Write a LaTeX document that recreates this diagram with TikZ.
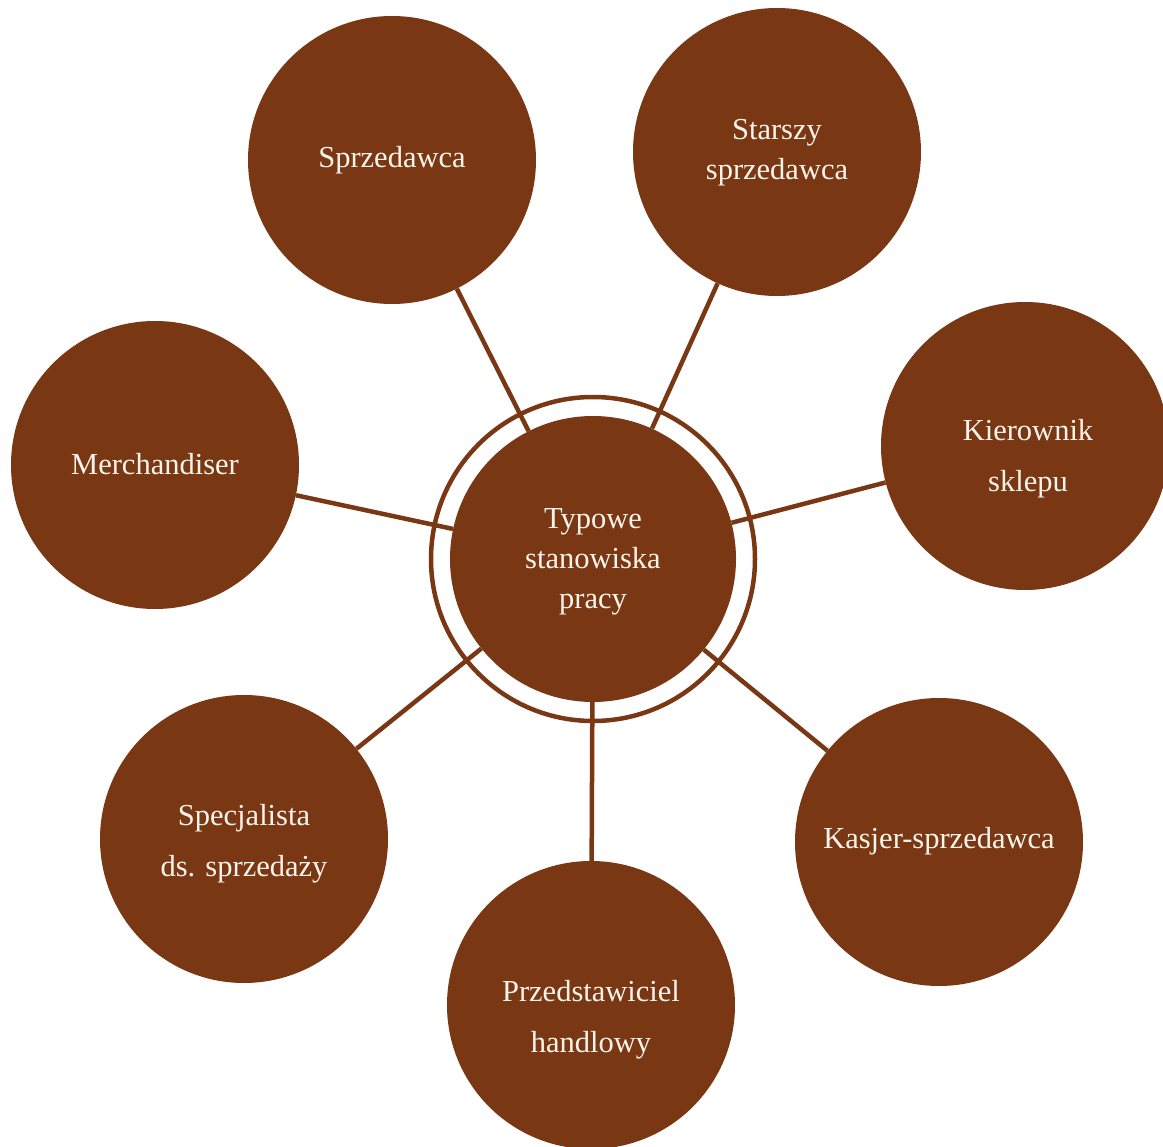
\documentclass[tikz,border=0pt]{standalone}
\usepackage{fontspec}
\setmainfont{Liberation Serif}
\definecolor{brn}{RGB}{121,56,19}
\definecolor{txt}{RGB}{250,243,235}
\begin{document}
\begin{tikzpicture}[x=1pt,y=-1pt,
  sat/.style={circle,fill=brn,minimum size=288pt,inner sep=0pt},
  hub/.style={circle,fill=brn,minimum size=286pt,inner sep=0pt},
  ring/.style={draw=brn,line width=4.5pt},
  lbl/.style={text=txt,align=center,font=\fontsize{30.5}{40}\selectfont},
  lblw/.style={text=txt,align=center,font=\fontsize{30.5}{51}\selectfont},
  link/.style={draw=brn,line width=4.5pt}]
\clip (0,0) rectangle (1163,1147);
\fill[white] (0,0) rectangle (1163,1147);
% hub
\node[hub] (c) at (593,559) {};
\draw[ring] (c.center) circle[radius=162pt];
% satellites
\node[sat] (sp) at (392,160) {};
\node[sat] (st) at (777,152) {};
\node[sat] (ki) at (1025,446) {};
\node[sat] (me) at (155,465) {};
\node[sat] (se) at (244,839) {};
\node[sat] (pr) at (591,1005) {};
\node[sat] (ka) at (939,842) {};
% connectors
\foreach \s in {sp,st,ki,me,se,pr,ka}
  \draw[link] (c) -- (\s);
% labels
\node[lbl] (c-t) at (593,562) {Typowe\\stanowiska\\pracy};
\node[lbl] (sp-t) at (392,160) {Sprzedawca};
\node[lbl] (st-t) at (777,153) {Starszy\\sprzedawca};
\node[lblw] (ki-t) at (1028,459) {Kierownik\\sklepu};
\node[lbl] (me-t) at (155,464) {Merchandiser};
\node[lblw] (se-t) at (244,844) {Specjalista\\ds. sprzedaży};
\node[lblw] (pr-t) at (591,1020) {Przedstawiciel\\handlowy};
\node[lbl] (ka-t) at (939,841) {Kasjer-sprzedawca};
\end{tikzpicture}
\end{document}
